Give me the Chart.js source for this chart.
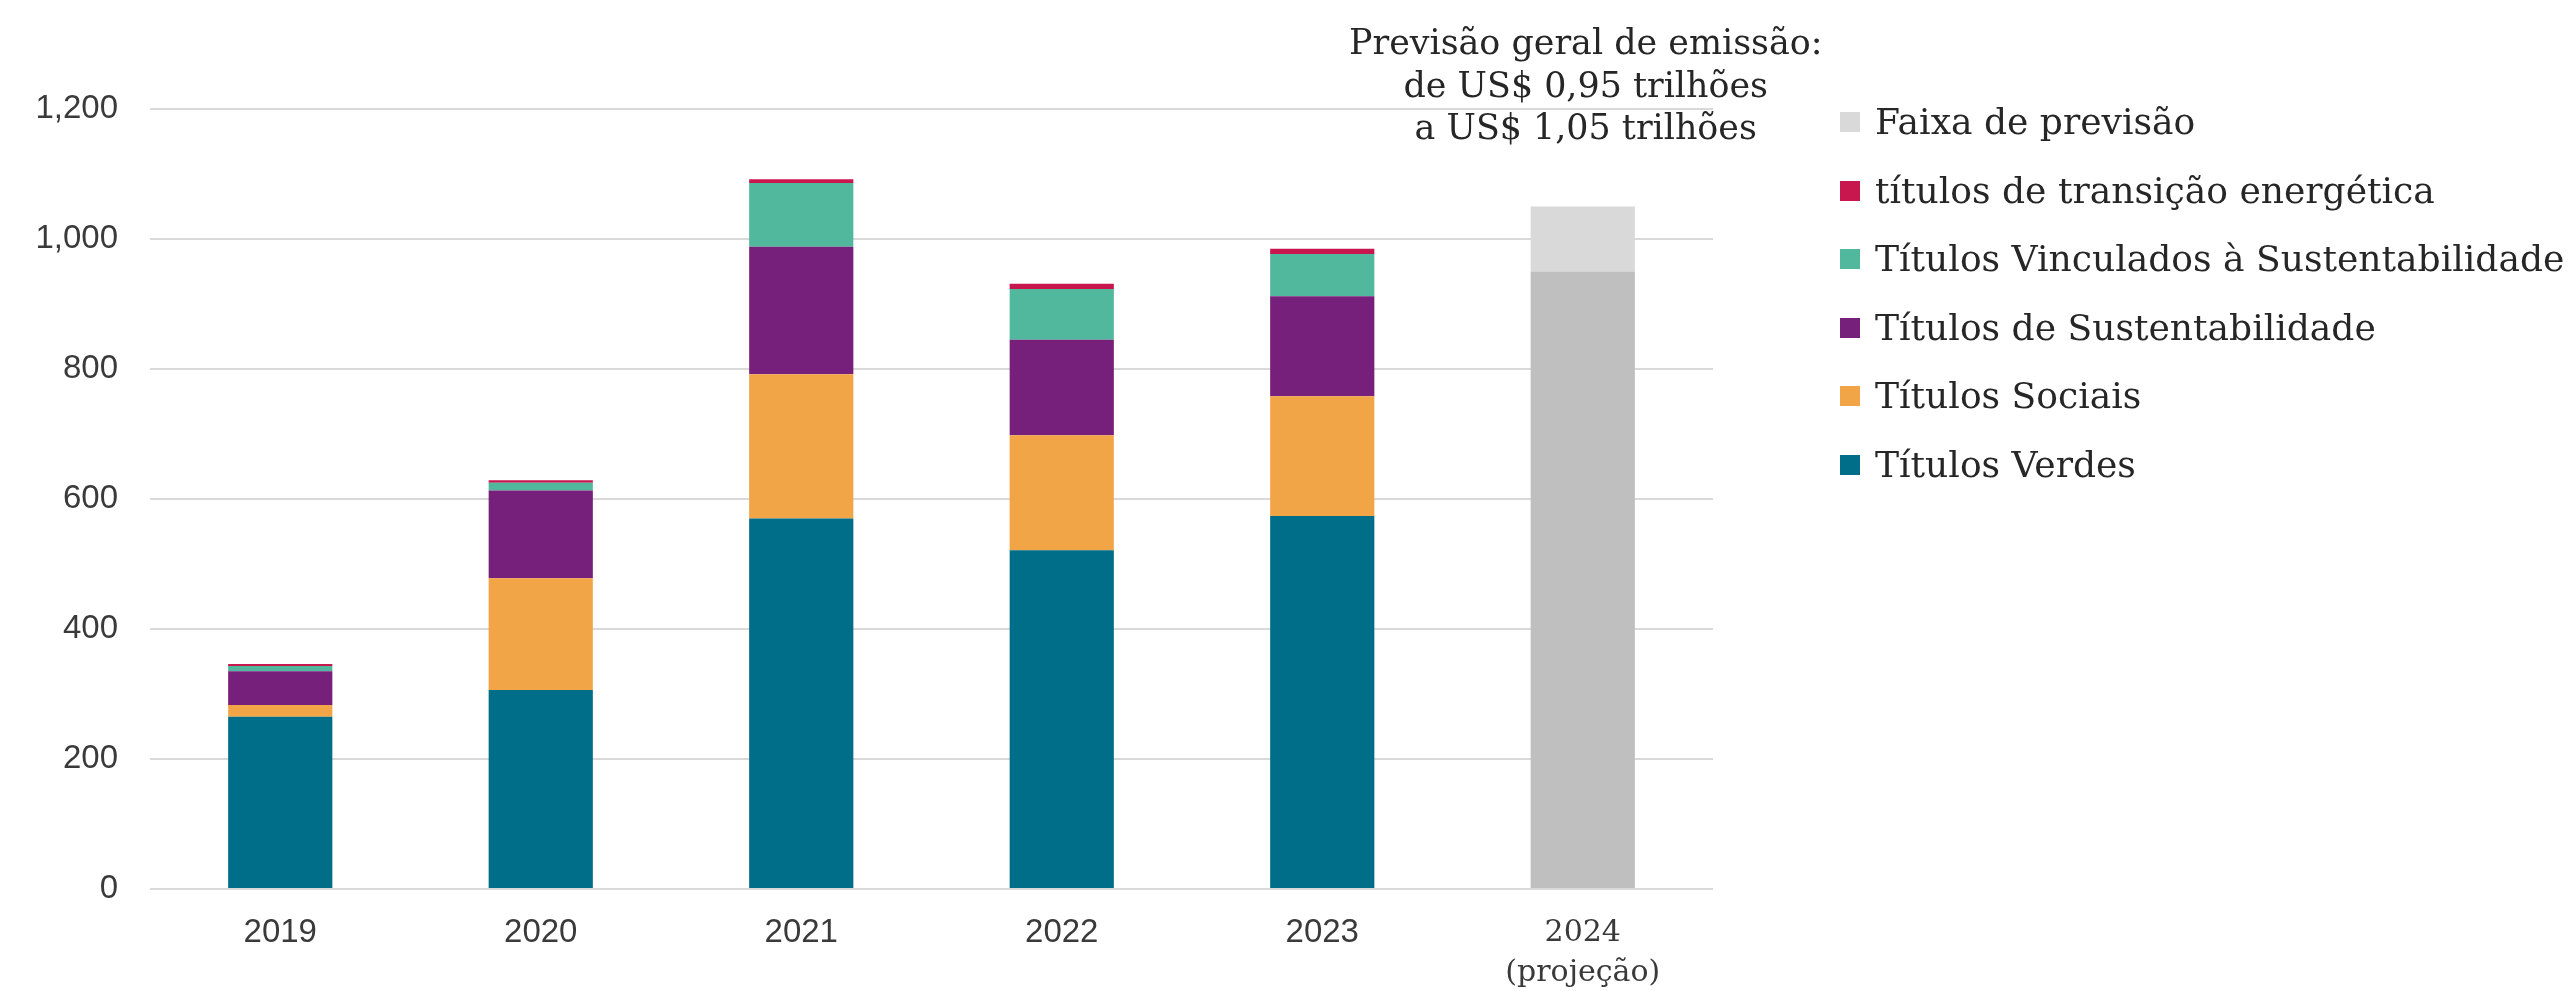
<!DOCTYPE html>
<html>
<head>
<meta charset="utf-8">
<script src="https://cdn.jsdelivr.net/npm/chart.js@4.4.1/dist/chart.umd.min.js"></script>
<style>
  html, body { margin: 0; padding: 0; background: #fff; }
  #wrap { position: relative; width: 2576px; height: 991px; }
  #legend { position: absolute; left: 1840px; top: 88px; font-family: "DejaVu Serif", serif; color: #262626; }
  #legend .item { height: 68.5px; display: flex; align-items: center; white-space: nowrap; }
  #legend .box { width: 20px; height: 20px; margin-right: 15px; flex: none; }
</style>
</head>
<body>
<div id="wrap">
  <canvas id="bondChart" width="2576" height="991"></canvas>
  <div id="legend"></div>
</div>
<script>
var years = ["2019", "2020", "2021", "2022", "2023", ["2024", "(projeção)"]];
var verdes = [265, 306, 570, 521, 574, null];
var sociais = [18, 172, 222, 177, 184, null];
var sustentabilidade = [52, 135, 196, 147, 154, null];
var vinculados = [8, 12, 98, 78, 65, null];
var transicao = [3, 4, 6, 8, 8, null];
var previsaoBase = [null, null, null, null, null, 950];
var faixaPrevisao = [null, null, null, null, null, 100];
var yTicks = [0, 200, 400, 600, 800, 1000, 1200];
var annotationLines = ["Previsão geral de emissão:", "de US$ 0,95 trilhões", "a US$ 1,05 trilhões"];

var datasets = [
  { label: "Títulos Verdes", data: verdes, backgroundColor: "#006e89" },
  { label: "Títulos Sociais", data: sociais, backgroundColor: "#f2a546" },
  { label: "Títulos de Sustentabilidade", data: sustentabilidade, backgroundColor: "#761f7b" },
  { label: "Títulos Vinculados à Sustentabilidade", data: vinculados, backgroundColor: "#52b89d" },
  { label: "títulos de transição energética", data: transicao, backgroundColor: "#c8174f" },
  { label: "Previsão", data: previsaoBase, backgroundColor: "#bfbfbf", hideInLegend: true },
  { label: "Faixa de previsão", data: faixaPrevisao, backgroundColor: "#d9d9d9" },
];

// font size so a text gets a given width in DejaVu Serif
function fitSize(text, width) {
  var m = document.createElement("canvas").getContext("2d");
  m.font = "100px 'DejaVu Serif'";
  return 100 * width / m.measureText(text).width;
}
var noteSize = fitSize(annotationLines[0], 473);
var legendSize = fitSize("Títulos Vinculados à Sustentabilidade", 690);

// texto acima da barra de 2024
var annotationPlugin = {
  id: "annotation",
  afterDraw: function (chart) {
    var c = chart.ctx;
    var x = chart.scales.x.getPixelForValue(5) + 3;
    c.save();
    c.font = noteSize.toFixed(1) + "px 'DejaVu Serif', serif";
    c.fillStyle = "#262626";
    c.textAlign = "center";
    c.textBaseline = "middle";
    annotationLines.forEach(function (line, i) {
      c.fillText(line, x, 45 + i * 42.5);
    });
    c.restore();
  },
};

var ctx = document.getElementById("bondChart").getContext("2d");
var chart = new Chart(ctx, {
  type: "bar",
  data: { labels: years, datasets: datasets },
  plugins: [annotationPlugin],
  options: {
    responsive: false,
    devicePixelRatio: 1,
    animation: false,
    layout: { padding: { top: 109, right: 863, left: 10, bottom: 0 } },
    datasets: { bar: { categoryPercentage: 0.8, barPercentage: 0.5 } },
    scales: {
      x: {
        stacked: true,
        grid: { display: false, drawTicks: false },
        border: { display: false },
        afterFit: function (axis) { axis.height = 102; },
        ticks: {
          color: "#3a3a3a",
          padding: 24,
          font: function (c) {
            return c.index === 5
              ? { family: "'DejaVu Serif', serif", size: 30, lineHeight: 1.33 }
              : { family: "'Liberation Sans', Arial, sans-serif", size: 33, lineHeight: 1.2 };
          },
        },
      },
      y: {
        stacked: true,
        min: 0,
        max: 1200,
        afterBuildTicks: function (axis) {
          axis.ticks = yTicks.map(function (v) { return { value: v }; });
        },
        afterFit: function (axis) { axis.width = 140; },
        grid: { color: "#d9d9d9", lineWidth: 2, drawTicks: false },
        border: { display: false },
        ticks: {
          color: "#3a3a3a",
          padding: 32,
          font: { family: "'Liberation Sans', Arial, sans-serif", size: 33 },
          callback: function (v) { return v.toLocaleString("en-US"); },
        },
      },
    },
    plugins: {
      legend: { display: false },
      tooltip: { enabled: false },
    },
  },
});

var legendEl = document.getElementById("legend");
legendEl.style.fontSize = legendSize.toFixed(1) + "px";
datasets.slice().reverse().forEach(function (ds) {
  if (ds.hideInLegend) return;
  var item = document.createElement("div");
  item.className = "item";
  var box = document.createElement("span");
  box.className = "box";
  box.style.background = ds.backgroundColor;
  var text = document.createElement("span");
  text.textContent = ds.label;
  item.appendChild(box);
  item.appendChild(text);
  legendEl.appendChild(item);
});
</script>
</body>
</html>
